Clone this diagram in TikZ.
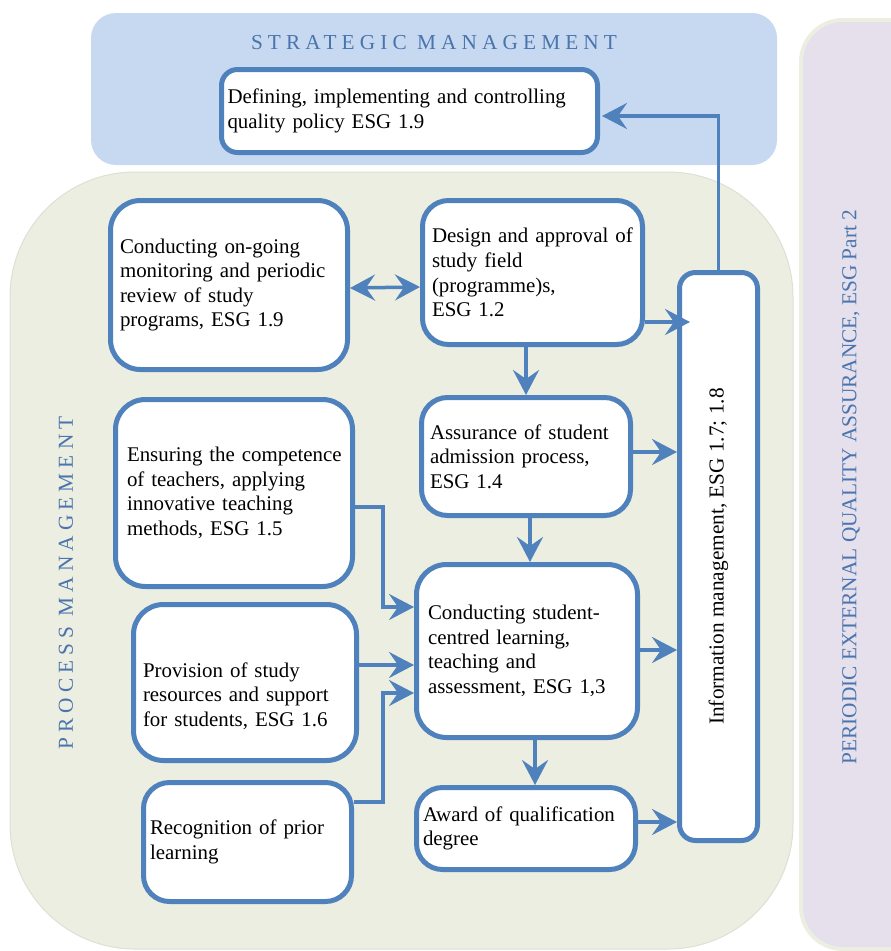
\documentclass[tikz,border=0pt]{standalone}
\usepackage{fontspec}
\setmainfont{Liberation Serif}
\newfontfamily\spacedfont[LetterSpace=24]{Liberation Serif}
\usetikzlibrary{arrows.meta,calc}
\definecolor{bord}{HTML}{4F81BD}
\definecolor{stratfill}{HTML}{C6D9F0}
\definecolor{procfill}{HTML}{EBEEE0}
\definecolor{extfill}{HTML}{E5E0EC}
\definecolor{titleblue}{HTML}{4A74AE}
\newcommand\oneline[1]{\mbox{#1}}
\tikzset{
  box/.style={draw=bord, line width=5pt, rounded corners=26pt, fill=white,
    align=left, inner ysep=2pt, anchor=center,
    font=\fontsize{20.9}{24.6}\selectfont},
  arr/.style={draw=bord, line width=3.5pt, -{Stealth[length=25pt,width=26pt,inset=9pt]}},
  dblarr/.style={draw=bord, line width=3.5pt, {Stealth[length=25pt,width=26pt,inset=9pt]}-{Stealth[length=25pt,width=26pt,inset=9pt]}},
  bandtitle/.style={text=titleblue, inner sep=0pt},
}
\begin{document}
\begin{tikzpicture}[x=1pt,y=-1pt]
\useasboundingbox (0,0) rectangle (891,951);
\begin{scope}
\clip (0,0) rectangle (891,951);
% bands
\fill[stratfill, rounded corners=25pt] (91,13) rectangle (777,165);
\filldraw[fill=procfill, draw=procfill!85!black!40!procfill, line width=1pt, rounded corners=125pt] (10,172) rectangle (793,949);
\filldraw[fill=extfill, draw=procfill, line width=4pt, rounded corners=42pt] (801,20) rectangle (950,949);
\end{scope}

\node[bandtitle, font=\spacedfont\fontsize{21.3}{24}\selectfont] (st) at (434,43) {STRATEGIC MANAGEMENT};
\node[bandtitle, rotate=90, font=\spacedfont\fontsize{21.3}{24}\selectfont] (pm) at (66,583) {PROCESS MANAGEMENT};
\node[bandtitle, rotate=90, font=\fontsize{21.3}{24}\selectfont] (pe) at (851,487) {PERIODIC EXTERNAL QUALITY ASSURANCE, ESG Part 2};

% boxes
\node[box, rounded corners=16pt, text width=364pt, inner xsep=6pt, minimum height=83pt] (def) at (409.5,111)
  {\oneline{Defining, implementing and controlling}\\\oneline{quality policy ESG 1.9}};
\node[box, rounded corners=30pt, text width=218pt, inner xsep=9.5pt, minimum height=169pt] (mon) at (229,285)
  {\oneline{Conducting on-going}\\\oneline{monitoring and periodic}\\\oneline{review of study}\\\oneline{programs, ESG 1.9}};
\node[box, text width=201pt, inner xsep=9.5pt, minimum height=144pt] (des) at (532.5,272.5)
  {\oneline{Design and approval of}\\\oneline{study field}\\\oneline{(programme)s,}\\\oneline{ESG 1.2}};
\node[box, rounded corners=16pt, inner sep=0pt, minimum width=78pt, minimum height=568pt] (info) at (718.5,556.5)
  {\rotatebox{90}{\fontsize{21.3}{24}\selectfont Information management, ESG 1.7; 1.8}};
\node[box, rounded corners=30pt, text width=214pt, inner xsep=11.5pt, minimum height=187pt] (ens) at (234,493)
  {\oneline{Ensuring the competence}\\\oneline{of teachers, applying}\\\oneline{innovative teaching}\\\oneline{methods, ESG 1.5}};
\node[box, text width=192pt, inner xsep=8.5pt, minimum height=118pt] (ass) at (526,456.5)
  {\oneline{Assurance of student}\\\oneline{admission process,}\\\oneline{ESG 1.4}};
\node[box, rounded corners=30pt, text width=198pt, inner xsep=11.5pt, minimum height=173pt] (cen) at (527,651)
  {\oneline{Conducting student-}\\\oneline{centred learning,}\\\oneline{teaching and}\\\oneline{assessment, ESG 1,3}};
\node[box, rounded corners=30pt, text width=204pt, inner xsep=9.5pt, minimum height=156pt, text depth=25pt] (pro) at (245,682.5)
  {\oneline{Provision of study}\\\oneline{resources and support}\\\oneline{for students, ESG 1.6}};
\node[box, text width=195pt, inner xsep=6.5pt, minimum height=119pt] (rec) at (247.5,842)
  {\oneline{Recognition of prior}\\\oneline{learning}};
\node[box, text width=206pt, inner xsep=6.5pt, minimum height=82pt] (awa) at (526,828.5)
  {\oneline{Award of qualification}\\\oneline{degree}};

% connectors
\draw[arr] (info.north) |- ($(def.east)+(2,5)$);
\draw[dblarr] ($(mon.east)+(0,3)$) -- ($(des.west)+(0,14.5)$);
\draw[arr] (des.east |- 0,322) -- ($(info.west |- 0,322)+(13,0)$);
\draw[arr] (ass.north |- des.south) -- (ass.north);
\draw[arr] (ass.east |- 0,452) -- (info.west |- 0,452);
\draw[arr] (ass.south -| 530,0) -- (cen.north -| 530,0);
\draw[arr] (cen.east |- 0,650) -- (info.west |- 0,650);
\draw[arr] (cen.south -| 535,0) -- (awa.north -| 535,0);
\draw[arr] (awa.east |- 0,822) -- (info.west |- 0,822);
\draw[arr] (ens.east |- 0,507) -| (383,607) -- (cen.west |- 0,607);
\draw[arr] (pro.east |- 0,665) -- (cen.west |- 0,665);
\draw[arr] (rec.east |- 0,802) -| (383,693) -- (cen.west |- 0,693);
\end{tikzpicture}
\end{document}
